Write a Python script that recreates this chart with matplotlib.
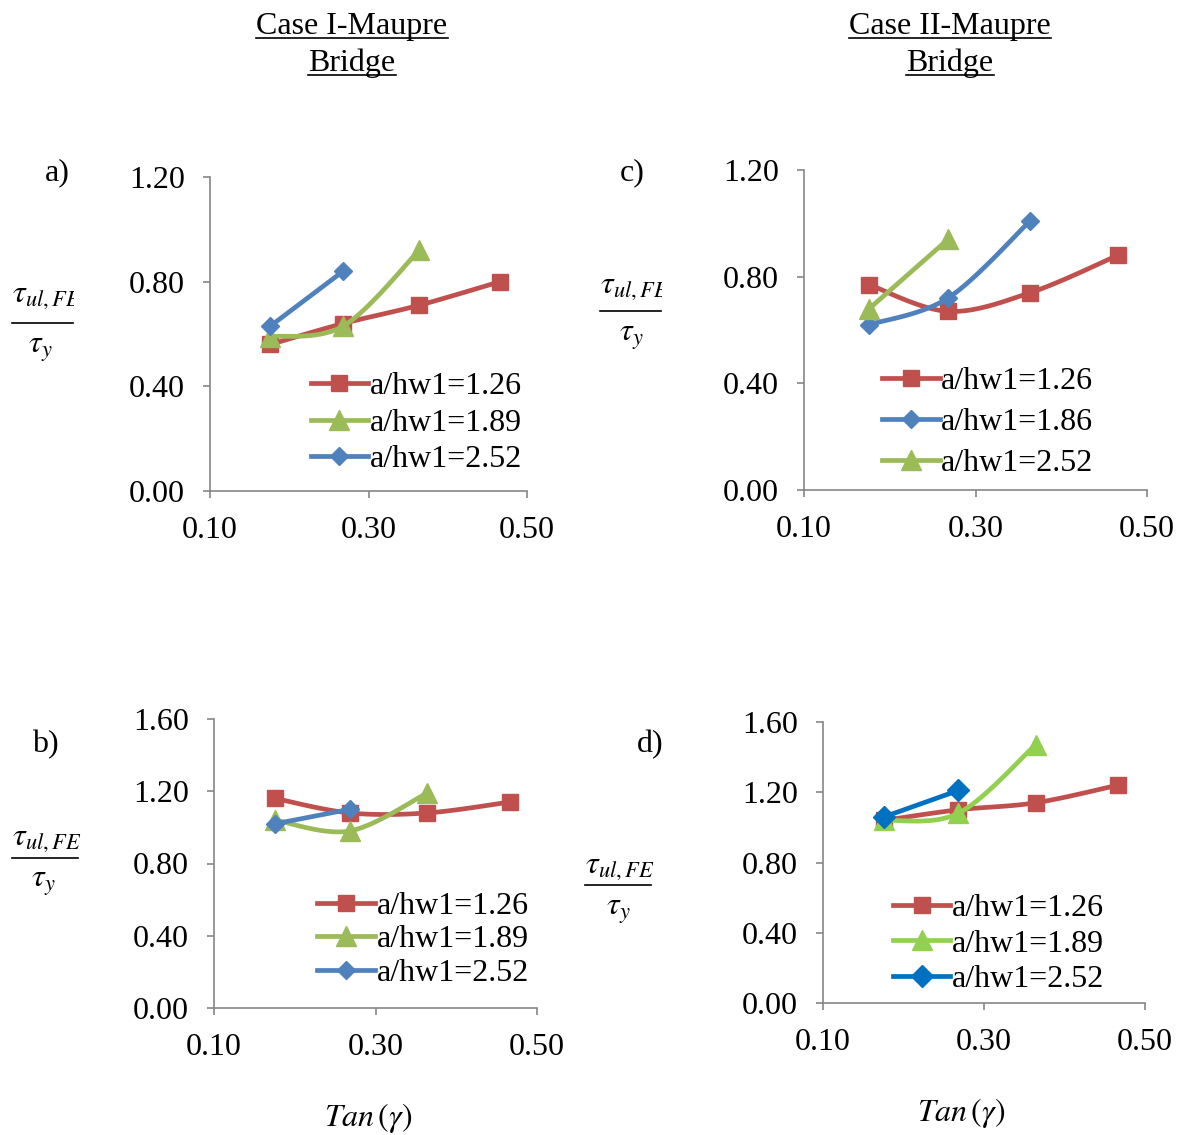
import numpy as np
import matplotlib.pyplot as plt
from matplotlib.lines import Line2D
from matplotlib.transforms import Bbox

plt.rcParams['font.family'] = 'Liberation Serif'
plt.rcParams['mathtext.fontset'] = 'stix'

W, H = 1183, 1135

# tan(gamma) for gamma = 10, 15, 20, 25 degrees
tan_gamma = [0.176, 0.268, 0.364, 0.466]

# Case I - Maupre Bridge
a_126 = [0.56, 0.64, 0.71, 0.80]
a_189 = [0.59, 0.63, 0.92]
a_252 = [0.63, 0.84]

b_126 = [1.16, 1.08, 1.08, 1.14]
b_189 = [1.04, 0.98, 1.19]
b_252 = [1.02, 1.10]

# Case II - Maupre Bridge
c_126 = [0.77, 0.67, 0.74, 0.88]
c_186 = [0.62, 0.72, 1.01]
c_252 = [0.68, 0.94]

d_126 = [1.04, 1.10, 1.14, 1.24]
d_189 = [1.04, 1.08, 1.47]
d_252 = [1.06, 1.21]

RED = '#C0504D'
GREEN = '#9BBB59'
BLUE = '#4F81BD'
GREEN2 = '#92D050'
BLUE2 = '#0070C0'
GRAY = '#868686'
FS = 23


def px_rect(left, top, right, bottom):
    return [left / W, 1 - bottom / H, (right - left) / W, (bottom - top) / H]


def smooth(x, y, n=30):
    # cubic Bezier through the points (Excel style smoothed line)
    x = np.asarray(x, float)
    y = np.asarray(y, float)
    if len(x) < 3:
        return x, y
    xs, ys = [x[0]], [y[0]]
    last = len(x) - 1
    t = np.linspace(0, 1, n)[1:]
    for i in range(last):
        i0, i3 = max(i - 1, 0), min(i + 2, last)
        p0 = np.array([x[i], y[i]])
        p3 = np.array([x[i + 1], y[i + 1]])
        p1 = p0 + (p3 - np.array([x[i0], y[i0]])) / 6
        p2 = p3 - (np.array([x[i3], y[i3]]) - p0) / 6
        pts = ((1 - t) ** 3)[:, None] * p0 + (3 * (1 - t) ** 2 * t)[:, None] * p1 \
            + (3 * (1 - t) * t ** 2)[:, None] * p2 + (t ** 3)[:, None] * p3
        xs.extend(pts[:, 0])
        ys.extend(pts[:, 1])
    return np.array(xs), np.array(ys)


def draw_series(ax, vals, color, marker, ms):
    x = tan_gamma[:len(vals)]
    sx, sy = smooth(x, vals)
    ax.plot(sx, sy, color=color, lw=3.4, solid_capstyle='round')
    ax.plot(x, vals, ls='none', marker=marker, ms=ms, color=color)
    return Line2D([], [], color=color, lw=3.4, marker=marker, ms=ms)


def setup(ax, ymax):
    ax.set_xlim(0.1, 0.5)
    ax.set_ylim(0, ymax)
    ax.set_xticks([0.1, 0.3, 0.5])
    ax.set_yticks(np.arange(0, ymax + 0.01, 0.4))
    ax.xaxis.set_major_formatter('{x:.2f}')
    ax.yaxis.set_major_formatter('{x:.2f}')
    for s in ['top', 'right']:
        ax.spines[s].set_visible(False)
    for s in ['left', 'bottom']:
        ax.spines[s].set_color(GRAY)
        ax.spines[s].set_linewidth(1.2)
    ax.tick_params(direction='out', length=5, width=1.2, color=GRAY,
                   labelsize=FS, pad=13)
    ax.patch.set_visible(False)


def legend(ax, handles, labels, cx, cy, spacing):
    ax.legend(handles, labels, loc='center', bbox_to_anchor=(cx, cy),
              frameon=False, fontsize=FS, handlelength=1.8,
              handletextpad=0.05, labelspacing=spacing,
              borderpad=0, borderaxespad=0)


def fraction(fig, cx, num_y, line_y, den_y, x0, x1, clip_right=None):
    num = fig.text(x0 / W, 1 - num_y / H, r'$\tau_{ul,FE}$', fontsize=23,
                   ha='left', va='center')
    if clip_right is not None:
        num.set_clip_box(Bbox.from_extents(0, 0, clip_right, H))
        num.set_clip_on(True)
    fig.add_artist(Line2D([x0 / W, x1 / W], [1 - line_y / H] * 2,
                          color='black', lw=1.2))
    fig.text(cx / W, 1 - den_y / H, r'$\tau_{y}$', fontsize=23,
             ha='center', va='center')


fig = plt.figure(figsize=(W / 100, H / 100), dpi=100)

# a) Case I, top
ax = fig.add_axes(px_rect(210, 177, 527, 491))
setup(ax, 1.2)
h = [draw_series(ax, a_126, RED, 's', 11),
     draw_series(ax, a_189, GREEN, '^', 14),
     draw_series(ax, a_252, BLUE, 'D', 9)]
legend(ax, h, ['a/hw1=1.26', 'a/hw1=1.89', 'a/hw1=2.52'], 0.651, 0.216, 0.22)

# c) Case II, top
ax = fig.add_axes(px_rect(804, 170, 1147, 490))
setup(ax, 1.2)
h = [draw_series(ax, c_126, RED, 's', 11),
     draw_series(ax, c_186, BLUE, 'D', 9),
     draw_series(ax, c_252, GREEN, '^', 14)]
legend(ax, h, ['a/hw1=1.26', 'a/hw1=1.86', 'a/hw1=2.52'], 0.536, 0.211, 0.37)

# b) Case I, bottom
ax = fig.add_axes(px_rect(214, 719, 537, 1008))
setup(ax, 1.6)
h = [draw_series(ax, b_126, RED, 's', 11),
     draw_series(ax, b_189, GREEN, '^', 14),
     draw_series(ax, b_252, BLUE, 'D', 9)]
legend(ax, h, ['a/hw1=1.26', 'a/hw1=1.89', 'a/hw1=2.52'], 0.647, 0.236, 0.13)

# d) Case II, bottom
ax = fig.add_axes(px_rect(823, 722, 1145, 1003))
setup(ax, 1.6)
h = [draw_series(ax, d_126, RED, 's', 11),
     draw_series(ax, d_189, GREEN2, '^', 14),
     draw_series(ax, d_252, BLUE2, 'D', 11)]
legend(ax, h, ['a/hw1=1.26', 'a/hw1=1.89', 'a/hw1=2.52'], 0.545, 0.21, 0.2)

# panel letters
for lbl, x, y in [('a)', 57, 173), ('c)', 632, 173), ('b)', 45, 745), ('d)', 650, 745)]:
    fig.text(x / W, 1 - y / H, lbl, fontsize=FS, ha='center', va='center')

# y labels
fraction(fig, 40, 297, 323, 350, 12, 73, clip_right=74)
fraction(fig, 631, 288, 311, 338, 600, 661, clip_right=662)
fraction(fig, 43, 840, 858, 884, 12, 78)
fraction(fig, 618, 867, 885, 912, 585, 651)

# x labels
for x, y in [(368, 1118), (961, 1113)]:
    fig.text(x / W, 1 - y / H, r'$Tan\,(\gamma)$', fontsize=23,
             ha='center', va='center')

# underlined column titles
titles = []
for cx, name in [(352, 'Case I-Maupre'), (950, 'Case II-Maupre')]:
    for txt, base in [(name, 34), ('Bridge', 71)]:
        t = fig.text(cx / W, 1 - base / H, txt, fontsize=FS,
                     ha='center', va='baseline')
        titles.append((t, base))

fig.canvas.draw()
r = fig.canvas.get_renderer()
for t, base in titles:
    bb = t.get_window_extent(r)
    y = 1 - (base + 4) / H
    fig.add_artist(Line2D([bb.x0 / W, bb.x1 / W], [y, y], color='black', lw=1.2))

fig.savefig('out.png', dpi=100)
